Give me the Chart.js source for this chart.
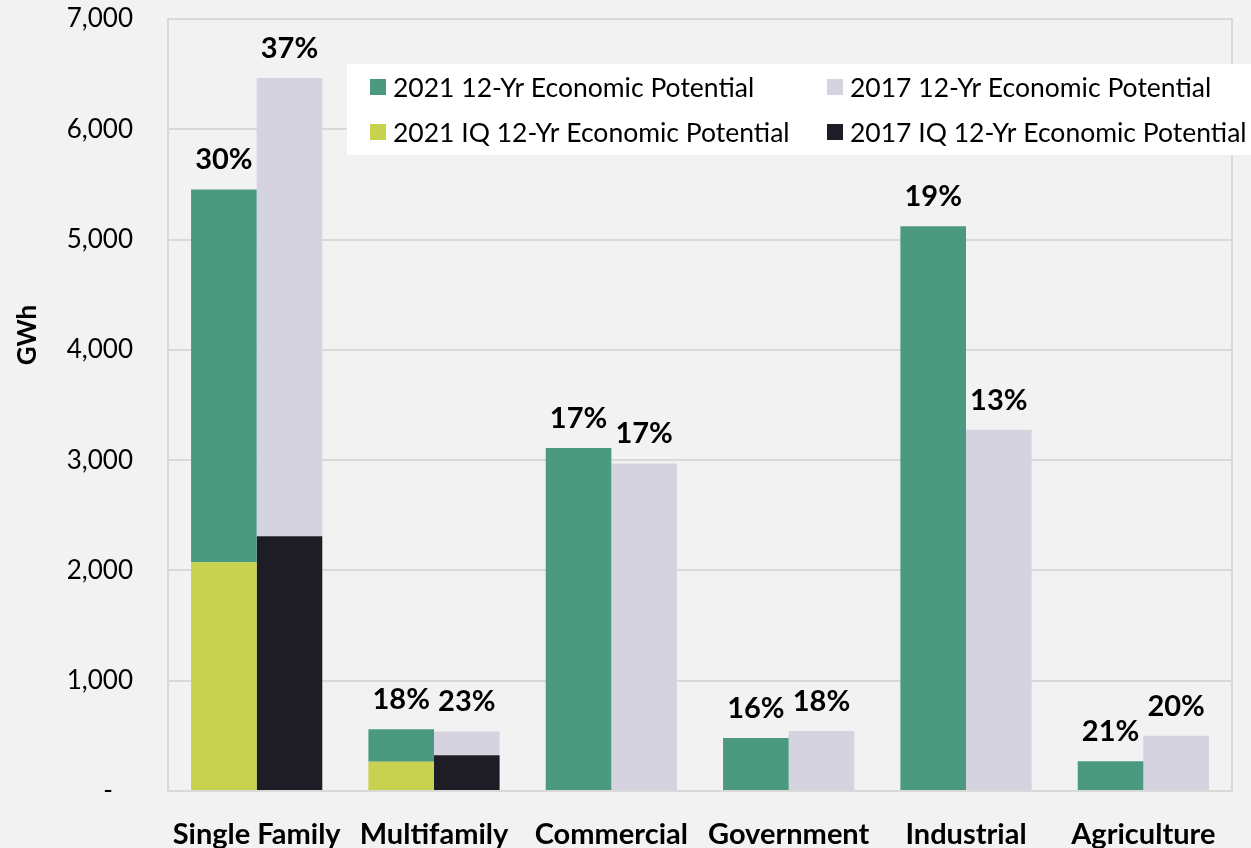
<!DOCTYPE html>
<html>
<head>
    <meta charset='utf-8'>
    <title>Economic Potential by Sector</title>
    <style>
        body { margin: 0; background: #f2f2f2; }
        #wrap { width: 1251px; height: 848px; position: relative; }
    </style>
</head>
<body>
    <div id="wrap">
        <canvas id="myChart"></canvas>
    </div>

    <script src="https://cdn.jsdelivr.net/npm/chart.js"></script>
    <script>
// GWh by sector
const sectors = ['Single Family', 'Multifamily', 'Commercial', 'Government', 'Industrial', 'Agriculture'];
const total2021 = [5455, 560, 3110, 480, 5120, 270];
const iq2021 = [2075, 265, 0, 0, 0, 0];
const total2017 = [6465, 540, 2970, 545, 3275, 500];
const iq2017 = [2310, 325, 0, 0, 0, 0];
// share labels on top of each stack
const pct2021 = ['30%', '18%', '17%', '16%', '19%', '21%'];
const pct2017 = ['37%', '23%', '17%', '18%', '13%', '20%'];

const colors = {
    teal: '#4b9a80',
    lime: '#c8d150',
    grey: '#d4d3df',
    dark: '#1e1c24',
    grid: '#d9d9d9'
};

Chart.defaults.font.family = 'Lato';
Chart.defaults.color = '#000';

// the non-IQ part sits on top of the IQ part
const rest = (tot, iq) => tot.map((v, i) => v - iq[i]);

const data = {
    labels: sectors,
    datasets: [
        { label: '2021 IQ 12-Yr Economic Potential', data: iq2021, backgroundColor: colors.lime, stack: 'y2021' },
        { label: '2021 12-Yr Economic Potential', data: rest(total2021, iq2021), backgroundColor: colors.teal, stack: 'y2021' },
        { label: '2017 IQ 12-Yr Economic Potential', data: iq2017, backgroundColor: colors.dark, stack: 'y2017' },
        { label: '2017 12-Yr Economic Potential', data: rest(total2017, iq2017), backgroundColor: colors.grey, stack: 'y2017' }
    ]
};

const topLabels = {
    id: 'topLabels',
    afterDatasetsDraw(chart) {
        const ctx = chart.ctx;
        ctx.save();
        ctx.font = 'bold 29px Lato';
        ctx.fillStyle = '#000';
        ctx.textAlign = 'center';
        ctx.textBaseline = 'alphabetic';
        [[1, pct2021], [3, pct2017]].forEach(([idx, pcts]) => {
            chart.getDatasetMeta(idx).data.forEach((bar, i) => {
                ctx.fillText(pcts[i], bar.x, bar.y - 20);
            });
        });
        ctx.restore();
    }
};

const frame = {
    id: 'frame',
    beforeDatasetsDraw(chart) {
        const { ctx, chartArea: a } = chart;
        ctx.save();
        ctx.strokeStyle = colors.grid;
        ctx.lineWidth = 2;
        ctx.strokeRect(a.left, a.top, a.right - a.left, a.bottom - a.top);
        ctx.restore();
    },
    afterDraw(chart) {
        const { ctx, chartArea: a } = chart;
        ctx.save();
        // axis title
        ctx.translate(28, 335);
        ctx.rotate(-Math.PI / 2);
        ctx.font = 'bold 26px Lato';
        ctx.textAlign = 'center';
        ctx.textBaseline = 'middle';
        ctx.fillStyle = '#000';
        ctx.fillText('GWh', 0, 0);
        ctx.restore();

        // legend box, two columns
        const x0 = a.left + 179, y0 = a.top + 45;
        ctx.save();
        ctx.fillStyle = '#fff';
        ctx.fillRect(x0, y0, chart.width - x0, 91);
        ctx.font = '26.5px Lato';
        ctx.textBaseline = 'middle';
        const order = [1, 0, 3, 2];
        order.forEach((dsIdx, k) => {
            const ds = chart.data.datasets[dsIdx];
            const col = Math.floor(k / 2), row = k % 2;
            const sx = x0 + 23 + col * 457;
            const sy = y0 + 23 + row * 45;
            ctx.fillStyle = ds.backgroundColor;
            ctx.fillRect(sx, sy - 8, 16, 16);
            ctx.fillStyle = '#000';
            ctx.fillText(ds.label, sx + 23, sy + 1);
        });
        ctx.restore();
    }
};

const chart = new Chart(document.getElementById('myChart'), {
    type: 'bar',
    data: data,
    options: {
        responsive: true,
        maintainAspectRatio: false,
        animation: false,
        categoryPercentage: 0.74,
        barPercentage: 1,
        layout: { padding: { top: 19, right: 19, left: 0, bottom: 0 } },
        plugins: {
            legend: { display: false },
            tooltip: { enabled: false }
        },
        scales: {
            x: {
                stacked: true,
                grid: { display: false, drawTicks: false },
                border: { display: false },
                ticks: { font: { size: 29, weight: 'bold' }, padding: 26, maxRotation: 0, autoSkip: false },
                afterFit(scale) { scale.height = 57; }
            },
            y: {
                stacked: true,
                min: 0,
                max: 7000,
                grid: { color: colors.grid, lineWidth: 2, drawTicks: false },
                border: { display: false },
                ticks: {
                    stepSize: 1000,
                    padding: 35,
                    font: { size: 26 },
                    callback: v => v === 0 ? '-   ' : v.toLocaleString('en-US')
                },
                afterFit(scale) {
                    scale.width = 168;
                    // tick padding should not push the plot down
                    scale.paddingTop = 0;
                    scale.paddingBottom = 0;
                }
            }
        }
    },
    plugins: [frame, topLabels]
});
    </script>
</body>
</html>
